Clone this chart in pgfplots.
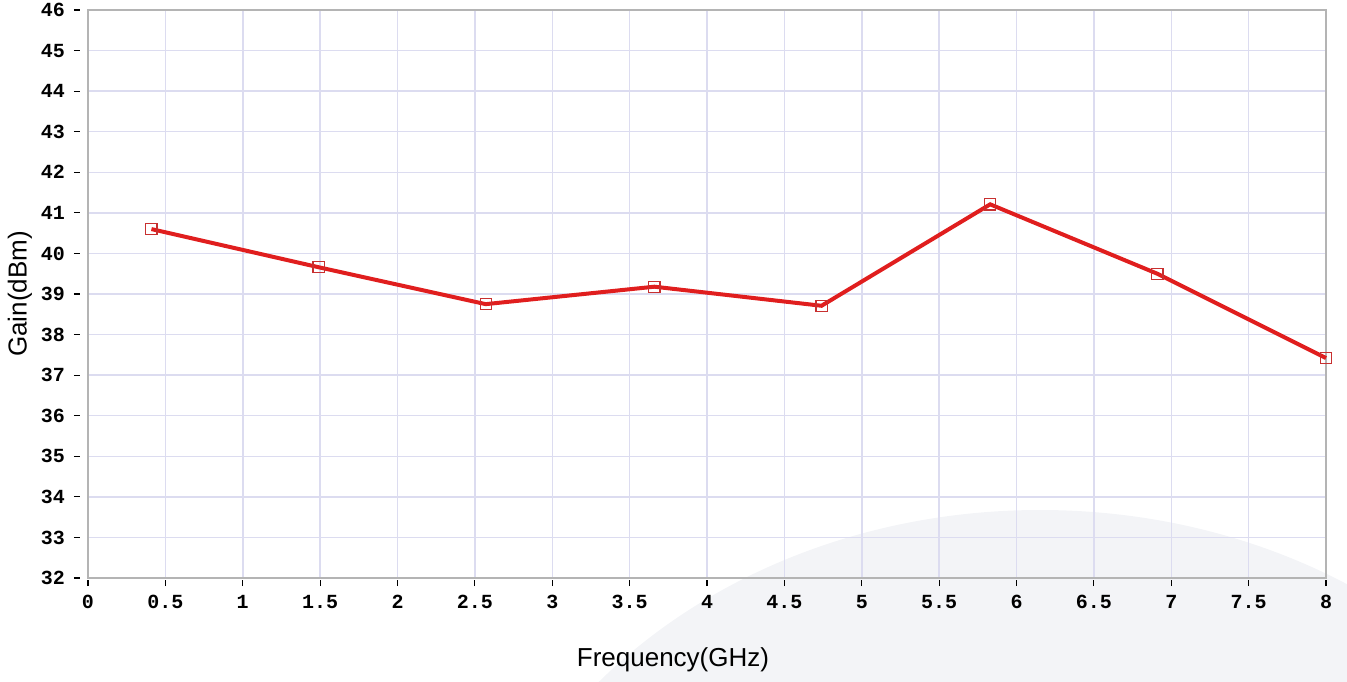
\documentclass[border=0pt]{standalone}
\usepackage{fontspec}
\setmainfont{Liberation Sans}
\setsansfont{Liberation Sans}
\setmonofont{Liberation Mono}
\usepackage{pgfplots}
\pgfplotsset{compat=1.18}
\definecolor{gridc}{HTML}{DCDCF0}
\definecolor{framec}{HTML}{B4B4B4}
\definecolor{linec}{HTML}{E01E1E}
\definecolor{markc}{HTML}{C83030}
\definecolor{wm}{HTML}{F3F4F7}
\begin{document}
\begin{tikzpicture}
\useasboundingbox (-44pt,-51.5pt) rectangle (629.5pt,289pt);
\begin{scope}
\clip (-44pt,-51.5pt) rectangle (629.5pt,289pt);
\fill[wm] (476pt,-211pt) ellipse [x radius=290pt, y radius=245pt];
\end{scope}
\begin{axis}[
  at={(0pt,0pt)}, anchor=south west,
  scale only axis, width=619pt, height=284pt,
  xmin=0, xmax=8, ymin=32, ymax=46,
  xtick={0,0.5,...,8}, ytick={32,33,...,46},
  tick pos=left,
  grid=major,
  major grid style={gridc, line width=0.75pt},
  axis line style={framec, line width=1pt},
  tick align=outside,
  major tick length=3pt,
  tick style={black, line width=0.6pt},
  ytick style={xshift=-4pt},
  xtick style={yshift=-1pt},
  /pgf/number format/assume math mode=true,
  ticklabel style={font=\fontsize{10}{12}\selectfont\ttfamily\bfseries},
  yticklabel style={anchor=east, xshift=-5pt},
  xticklabel style={anchor=north, yshift=-2pt},
  clip=false,
  xlabel={Frequency(GHz)},
  ylabel={Gain(dBm)},
  label style={font=\fontsize{13}{15}\selectfont},
  xlabel style={at={(axis description cs:0.4725,0)}, anchor=center, yshift=-41pt},
  ylabel style={at={(axis description cs:0,0.5)}, anchor=center, yshift=34pt},
]
\addplot[linec, line width=2pt, mark=square, mark size=2.8pt,
  mark options={markc, line width=0.6pt, fill=none, solid}]
coordinates {
(0.41,40.60) (1.49,39.66) (2.57,38.75) (3.66,39.18) (4.74,38.71) (5.83,41.21) (6.91,39.50) (8.00,37.42)
};
\end{axis}
\end{tikzpicture}
\end{document}
